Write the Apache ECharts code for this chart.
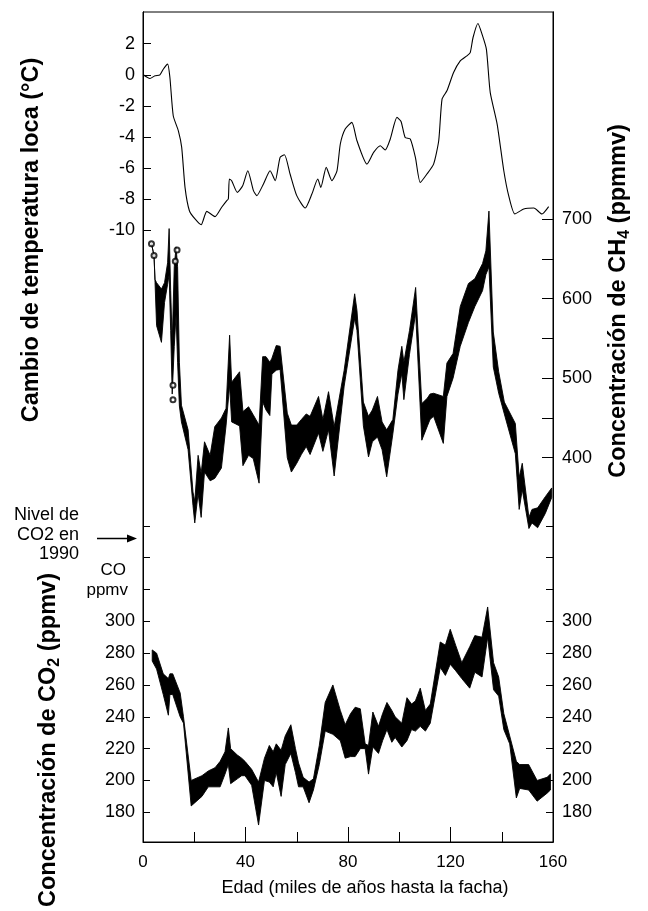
<!DOCTYPE html>
<html><head><meta charset="utf-8">
<script src="https://cdn.jsdelivr.net/npm/echarts@6/dist/echarts.min.js"></script>
<style>html,body{margin:0;padding:0;background:#fff}#c{width:648px;height:911px}</style>
</head><body><div id="c"></div>
<script>
// ---- data (ages in thousands of years before present) ----
const tempAge = [0.1,2.7,4.7,6.6,7.9,9.6,10.5,11.8,13.8,15.1,16.4,18.1,20.3,22.7,24.9,28.1,30.7,32.7,33.3,33.7,34.6,36.8,38.9,40.9,43.1,44.4,47.0,49.6,51.6,53.5,55.2,57.4,60.0,63.3,65.9,68.2,69.4,71.5,73.7,75.7,77.0,78.9,81.5,83.5,87.4,90.0,92.6,94.5,96.5,99.1,100.7,102.3,104.3,106.3,108.2,110.8,113.4,115.4,116.7,118.6,121.2,123.8,126.4,127.7,128.8,130.7,132.3,134.0,135.5,138.2,140.8,142.7,145.1,148.6,152.5,155.7,158.3];
const tempVal = [0.0,-0.24,-0.06,0.0,0.36,0.69,-0.17,-2.63,-3.6,-4.67,-7.24,-8.74,-9.27,-9.64,-8.78,-9.12,-8.52,-8.09,-7.99,-6.7,-6.81,-7.56,-7.13,-6.17,-7.45,-7.77,-7.02,-6.17,-6.81,-5.31,-5.14,-6.38,-7.77,-8.57,-7.67,-6.70,-7.24,-5.95,-6.81,-6.17,-4.45,-3.49,-3.06,-4.24,-5.74,-4.99,-4.56,-4.84,-4.13,-2.74,-3.0,-4.03,-4.13,-5.31,-6.92,-6.38,-5.74,-4.24,-1.56,-1.03,0.15,0.9,1.22,1.43,2.4,3.3,2.61,1.65,-1.13,-3.17,-6.17,-7.77,-8.95,-8.63,-8.57,-8.95,-8.48];

const ch4Age  = [3.3,4.3,4.7,5.3,7.2,8.4,9.6,10.2,10.8,11.4,12.2,12.9,13.5,14.2,15.0,17.6,19.5,20.2,21.5,22.7,24.0,26.2,28.0,30.6,32.4,33.8,34.6,37.7,39.0,41.2,43.0,45.3,46.7,48.0,49.5,50.3,52.0,53.5,56.3,57.9,60.0,61.8,63.7,65.2,68.5,70.2,72.4,74.6,78.5,82.6,83.5,86.0,88.0,89.5,91.5,93.3,95.1,97.5,99.5,101.0,101.8,104.0,106.4,108.8,111.0,112.0,113.4,117.2,118.6,121.0,123.8,127.0,129.5,132.5,133.8,135.0,136.7,138.8,141.0,145.3,146.8,148.0,150.6,151.8,154.0,157.0,159.5];
const ch4Low  = [669,654,620,566,545,595,618,630,560,480,540,580,520,465,445,410,340,318,355,325,382,371,374,387,440,491,445,440,390,403,399,368,470,460,453,505,510,511,400,382,393,404,414,404,431,408,435,377,490,575,560,440,401,420,426,410,376,430,480,506,473,530,582,422,440,448,452,418,477,500,540,570,590,610,630,640,514,481,455,405,335,360,311,318,312,330,350];
const ch4High = [669,654,624,620,612,620,645,688,610,545,640,665,640,520,466,435,357,345,403,380,420,403,439,450,462,554,495,508,458,464,454,441,527,527,520,525,541,540,456,441,441,448,455,452,477,448,483,439,510,606,585,470,452,460,477,445,435,448,510,540,520,560,614,468,475,480,481,477,519,531,590,619,625,644,660,710,558,508,470,443,375,393,325,335,337,351,362];
const ch4PointAge = [3.3,4.3,11.7,11.7,12.6,13.3];
const ch4PointVal = [669,654,491,473,647,661];

const co2Age  = [3.6,5.3,7.9,9.9,10.5,11.6,14.5,15.8,18.8,23.0,25.5,28.1,30.1,32.0,33.3,34.2,36.8,38.5,39.8,42.4,45.1,47.4,49.3,50.8,52.0,53.9,55.5,57.7,59.5,60.7,62.5,64.8,66.5,68.8,71.1,74.1,77.0,78.9,81.0,82.8,84.8,86.7,88.0,89.7,91.9,93.5,95.2,97.1,98.4,101.0,103.0,104.8,106.3,108.2,110.2,112.1,116.0,118.0,119.9,122.0,124.4,127.5,129.5,132.3,134.5,136.8,138.8,140.8,143.1,145.7,147.0,150.5,153.8,157.7,159.0];
const co2Low  = [275,270,254,241,254,254,240,236,184,190,196,196,196,204,210,198,201,203,203,197,172,200,199,196,205,190,210,217,205,196,196,186,194,210,231,229,225,214,215,215,220,220,204,221,217,225,232,224,227,221,225,232,231,234,231,236,271,266,273,269,264,258,268,265,290,257,253,232,223,189,195,194,187,192,194];
const co2High = [282,280,267,264,267,267,255,240,200,203,206,208,212,218,233,220,216,214,212,207,199,214,222,218,223,219,228,235,220,211,202,199,201,222,249,260,244,235,242,246,245,223,222,243,234,242,249,244,240,236,252,248,250,258,244,248,287,285,295,285,274,284,291,290,309,274,265,242,228,212,210,210,200,202,204];

const co2Level1990 = 352;

const tempTicks = [-10,-8,-6,-4,-2,0,2];
const ch4LabelVals = [400,500,600,700];
const ch4TickVals = [400,450,500,550,600,650,700];
const co2LabelVals = [180,200,220,240,260,280,300];
const co2TickVals = [180,200,220,240,260,280,300,320,340,360];

// ---- chart ----
const F = '"Liberation Sans", Arial, Helvetica, sans-serif';
const chart = echarts.init(document.getElementById('c'), null, {renderer:'canvas'});

function bandRenderer(ages, lows, highs){
  return function(params, api){
    if (params.dataIndex !== 0) return null;
    const pts = [];
    for (let i = 0; i < ages.length; i++) pts.push(api.coord([ages[i], highs[i]]));
    for (let i = ages.length - 1; i >= 0; i--) pts.push(api.coord([ages[i], lows[i]]));
    return {type:'polygon', shape:{points:pts}, style:{fill:'#000', stroke:'#000', lineWidth:0.9, lineJoin:'miter', miterLimit:3}};
  };
}

function yAx(pos, min, max, labels, ticks, tickLen, margin){
  return {
    type:'value', position:pos, min:min, max:max, scale:false,
    axisLine:{show:true, onZero:false, lineStyle:{color:'#000', width:1}},
    axisTick:{show:true, inside:true, length:tickLen, customValues:ticks, lineStyle:{color:'#000', width:1}},
    axisLabel:{show:true, customValues:labels, fontSize:18, fontFamily:F, color:'#000', margin:margin},
    splitLine:{show:false}
  };
}

const option = {
  animation:false,
  backgroundColor:'#fff',
  grid:{left:143, right:95, top:12, bottom:69, show:true, borderColor:'#000', borderWidth:1, backgroundColor:'transparent', containLabel:false},
  xAxis:{
    type:'value', min:0, max:160, interval:40,
    axisLine:{onZero:false, lineStyle:{color:'#000', width:1}},
    axisTick:{inside:true, length:15, lineStyle:{color:'#000', width:1}},
    minorTick:{show:true, splitNumber:2, length:10, lineStyle:{color:'#000', width:1}},
    axisLabel:{fontSize:17, fontFamily:F, color:'#000', margin:12},
    splitLine:{show:false}, minorSplitLine:{show:false}
  },
  yAxis:[
    yAx('left', -49.34, 4.04, tempTicks, tempTicks, 8, 8),
    yAx('right', -83, 960.2, ch4LabelVals, ch4TickVals, 11, 9),
    yAx('left', 161.34, 682.8, co2LabelVals, co2TickVals, 7, 8),
    yAx('right', 161.34, 682.8, co2LabelVals, co2TickVals, 7, 9)
  ],
  series:[
    {type:'line', yAxisIndex:0, data:tempAge.map((a,i)=>[a,tempVal[i]]), showSymbol:false, smooth:0.2, lineStyle:{color:'#000', width:1.1}, silent:true},
    {type:'custom', yAxisIndex:1, data:ch4Age.map((a,i)=>[a,ch4Low[i],ch4High[i]]), encode:{x:0, y:[1,2]}, renderItem:bandRenderer(ch4Age,ch4Low,ch4High), silent:true},
    {type:'custom', yAxisIndex:2, data:co2Age.map((a,i)=>[a,co2Low[i],co2High[i]]), encode:{x:0, y:[1,2]}, renderItem:bandRenderer(co2Age,co2Low,co2High), silent:true},
    {type:'scatter', yAxisIndex:1, data:ch4PointAge.map((a,i)=>[a,ch4PointVal[i]]), symbol:'emptyCircle', symbolSize:5, itemStyle:{color:'#000', borderColor:'#000', borderWidth:1}, silent:true}
  ]
};
chart.setOption(option);

const arrowY = chart.convertToPixel({yAxisIndex:2}, co2Level1990);
const TS = 23.5;
const titleStyle = (x, y, text, rich) => ({
  type:'text', x:x, y:y, rotation:Math.PI/2,
  style:{text:text, fontSize:TS, fontWeight:'bold', fontFamily:F, fill:'#000', textAlign:'center', textVerticalAlign:'middle', align:'center', verticalAlign:'middle', rich:rich}
});
const subRich = {
  m:{fontSize:TS, fontWeight:'bold', fontFamily:F, lineHeight:28, verticalAlign:'middle'},
  s:{fontSize:16, fontWeight:'bold', fontFamily:F, lineHeight:16, verticalAlign:'bottom'}
};
const plain = (x, y, text, align, size) => ({
  type:'text', x:x, y:y,
  style:{text:text, fontSize:size, fontFamily:F, fill:'#000', textAlign:align, textVerticalAlign:'middle', align:align, verticalAlign:'middle'}
});

chart.setOption({
  graphic:[
    titleStyle(32, 240, 'Cambio de temperatura loca (°C)'),
    titleStyle(49, 740, '{m|Concentración de CO}{s|2}{m| (ppmv)}', subRich),
    titleStyle(619, 301, '{m|Concentración de CH}{s|4}{m| (ppmmv)}', subRich),
    plain(79, 515, 'Nivel de', 'right', 18),
    plain(79, 535, 'CO2 en', 'right', 18),
    plain(79, 554, '1990', 'right', 18),
    plain(126, 570, 'CO', 'right', 17),
    plain(128, 590, 'ppmv', 'right', 17),
    {type:'line', shape:{x1:97, y1:arrowY, x2:131, y2:arrowY}, style:{stroke:'#000', lineWidth:1.4}},
    {type:'polygon', shape:{points:[[137,arrowY],[127,arrowY-4],[127,arrowY+4]]}, style:{fill:'#000'}},
    plain(365, 888, 'Edad (miles de años hasta la facha)', 'center', 18)
  ]
});
</script></body></html>
